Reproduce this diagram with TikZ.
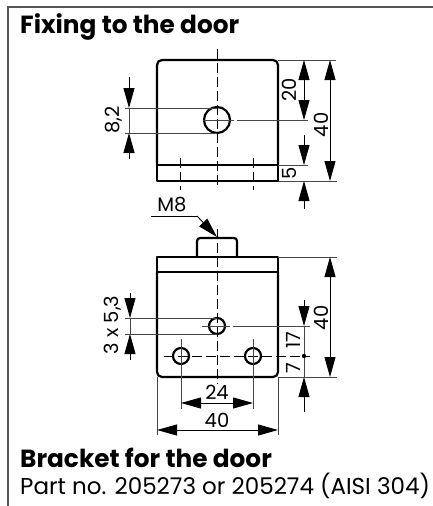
\documentclass[tikz,border=0pt]{standalone}
\usepackage{fontspec}
\setmainfont{Poppins}
\usetikzlibrary{arrows.meta, positioning, calc}
\definecolor{framegray}{RGB}{85, 85, 85}
\definecolor{dimgray}{RGB}{70, 70, 70}

\begin{document}
\begin{tikzpicture}[
        x=1pt, y=-1pt,
        outline/.style={line width=2.2pt, black, line join=round},
        axis/.style={line width=0.9pt, black, dash pattern=on 10pt off 4pt},
        thinline/.style={line width=0.9pt, dimgray},
        dimline/.style={line width=0.9pt, dimgray},
        tip/.style={-{Triangle[length=20pt, width=11pt]}, line width=0.9pt, black},
        bothtip/.style={{Triangle[length=20pt, width=11pt]}-{Triangle[length=20pt, width=11pt]}, line width=0.9pt, black},
        dimtext/.style={font=\fontsize{19.5}{19.5}\selectfont, inner sep=0pt},
        sidetext/.style={dimtext, rotate=90},
        title/.style={font=\fontsize{24.8}{24.8}\selectfont\bfseries, anchor=base west, inner sep=0pt},
        plain/.style={font=\fontsize{23}{23}\selectfont, anchor=base west, inner sep=0pt}
    ]
        \useasboundingbox (0,0) rectangle (433,506);

        % Frame
        \draw[line width=2pt, framegray] (433,6.5) -- (8,6.5) -- (8,506);

        % Titles
        \node[title] (fixing) at (20,34) {Fixing to the door};
        \node[title] (bracket) at (20,467) {Bracket for the door};
        \node[plain] (part) at (20,494) {Part no. 205273 or 205274 (AISI 304)};

        % Upper view: body
        \draw[outline, rounded corners=5pt] (157,165) -- (157,60) -- (278,60) -- (278,165);
        \draw[outline] (157,165) rectangle (278,181);
        \node[circle, draw, line width=2.2pt, minimum size=26pt, inner sep=0pt] (hole) at (217,120) {};

        % Upper view: axes
        \draw[axis] (217,49) -- (217,187);
        \draw[thinline] (203,120) -- (234,120);
        \draw[thinline] (237,120) -- (308,120);
        \draw[axis] (180.5,158) -- (180.5,190);
        \draw[axis] (253,158) -- (253,190);

        % Upper view: dimensions
        \draw[thinline] (278,60) -- (336,60);
        \draw[thinline] (278,181) -- (337,181);
        \draw[thinline] (278,165) -- (308,165);
        \draw[thinline] (125,108) -- (217,108);
        \draw[thinline] (125,133) -- (217,133);
        \draw[dimline] (129,108) -- (129,133);
        \draw[tip] (129,77) -- (129,108);
        \draw[tip] (129,159) -- (129,133);
        \draw[bothtip] (304,60) -- (304,120);
        \draw[bothtip] (330,60) -- (330,181);
        \draw[tip] (304,135) -- (304,165);
        \draw[tip] (304,209) -- (304,181);
        \node[sidetext] (dfirst) at (114,120) {8,2};
        \node[sidetext] (dtwenty) at (289,90) {20};
        \node[sidetext] (dforty) at (321,125) {40};
        \node[sidetext] (dfive) at (289,173) {5};

        % Lower view: body
        \draw[outline, rounded corners=5pt] (157,272) -- (157,377) -- (278,377) -- (278,272);
        \draw[outline] (157,257) rectangle (278,272);
        \draw[outline, rounded corners=3pt] (197,257) -- (197,238) -- (237,238) -- (237,257);
        \node[circle, draw, line width=2.2pt, minimum size=16pt, inner sep=0pt] (holetop) at (217,326) {};
        \node[circle, draw, line width=2.2pt, minimum size=16pt, inner sep=0pt] (holeleft) at (181,356) {};
        \node[circle, draw, line width=2.2pt, minimum size=16pt, inner sep=0pt] (holeright) at (253,356) {};

        % Lower view: axes
        \draw[axis] (217,229) -- (217,384);
        \draw[thinline] (202,326) -- (230,326);
        \draw[thinline] (233,326) -- (310,326);
        \draw[axis] (164,356) -- (310,356);
        \draw[thinline] (181,339) -- (181,409);
        \draw[thinline] (253,339) -- (253,409);

        % Lower view: dimensions
        \draw[thinline] (278,257) -- (337,257);
        \draw[thinline] (278,377) -- (337,377);
        \draw[thinline] (157,377) -- (157,435);
        \draw[thinline] (278,377) -- (278,435);
        \draw[thinline] (125,318) -- (217,318);
        \draw[thinline] (125,334) -- (217,334);
        \draw[dimline] (130,318) -- (130,334);
        \draw[tip] (130,293) -- (130,318);
        \draw[tip] (130,360) -- (130,334);
        \draw[bothtip] (330,257) -- (330,377);
        \draw[tip] (304,300) -- (304,326);
        \draw[dimline] (304,326) -- (304,377);
        \draw[tip] (304,412) -- (304,377);
        \fill (304,356) circle (2.2pt);
        \draw[bothtip] (181,403) -- (253,403);
        \draw[bothtip] (157,430) -- (278,430);
        \node[sidetext] (dthree) at (113,325) {3 x 5,3};
        \node[sidetext] (dseventeen) at (293,340) {17};
        \node[sidetext] (dseven) at (293,368) {7};
        \node[sidetext] (dfortyb) at (321,318) {40};
        \node[dimtext] (dtwentyfour) at (217,392) {24};
        \node[dimtext] (dfortyc) at (217,420) {40};

        % Thread callout
        \node[dimtext] (thread) at (172,205) {M8};
        \coordinate (threadstart) at (151,216);
        \coordinate (threadbend) at (197,216);
        \coordinate (threadend) at (217,237);
        \draw[line width=0.9pt] (threadstart) -- (threadbend);
        \draw[tip] (threadbend) -- (threadend);
    \end{tikzpicture}
\end{document}
